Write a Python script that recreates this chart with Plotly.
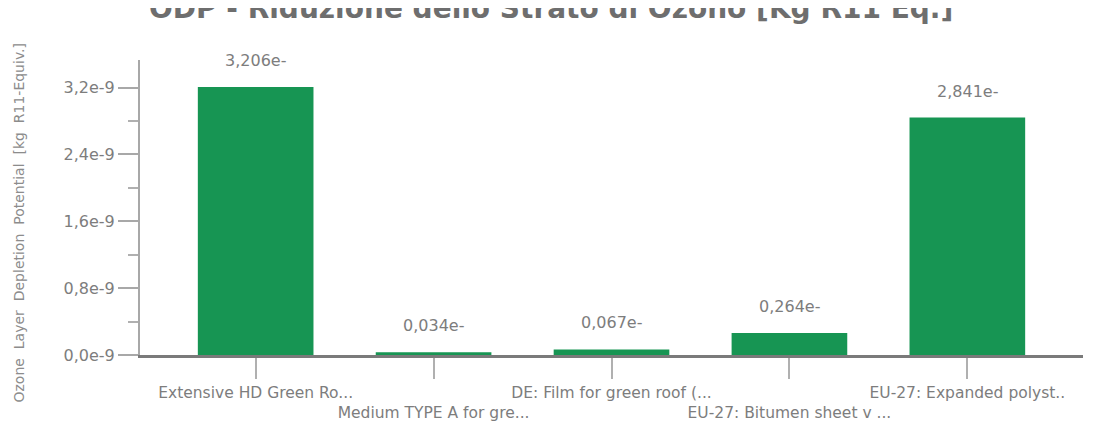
import plotly.graph_objects as go

categories = ["Extensive HD Green Ro...", "Medium TYPE A for gre...", "DE: Film for green roof (...",
              "EU-27: Bitumen sheet v ...", "EU-27: Expanded polyst.."]
values = [3.206e-9, 0.034e-9, 0.067e-9, 0.264e-9, 2.841e-9]
value_labels = ["3,206e-", "0,034e-", "0,067e-", "0,264e-", "2,841e-"]
y_tickvals = [0.0, 0.8e-9, 1.6e-9, 2.4e-9, 3.2e-9]
y_ticktext = ["0,0e-9", "0,8e-9", "1,6e-9", "2,4e-9", "3,2e-9"]
y_minorvals = [0.4e-9, 1.2e-9, 2.0e-9, 2.8e-9]
title = "ODP - Riduzione dello Strato di Ozono [Kg R11 Eq.]"
y_title = "Ozone  Layer  Depletion  Potential  [kg  R11-Equiv.]"

x_ticktext = [c if i % 2 == 0 else "<br>" + c for i, c in enumerate(categories)]

FONT = "DejaVu Sans, Verdana, sans-serif"
GRAY = "#7d7d7d"

fig = go.Figure()
fig.add_trace(go.Bar(x=list(range(len(categories))), y=values, marker_color="#179553",
                     marker_line_width=0, width=0.65, hoverinfo="skip"))

for i, (v, t) in enumerate(zip(values, value_labels)):
    fig.add_annotation(x=i, y=v, text=t, showarrow=False, yanchor="bottom", yshift=15,
                       font=dict(family=FONT, size=16, color=GRAY))

# y-axis title
fig.add_annotation(xref="paper", yref="paper", x=-0.128, y=0.45, text=y_title, textangle=-90,
                   showarrow=False, xanchor="center", yanchor="middle",
                   font=dict(family=FONT, size=14, color="#8c8c8c"))

# chart title (clipped at the top like the reference)
fig.add_annotation(xref="paper", yref="paper", x=(551 - 140) / 943, y=1 + 52 / 295, text="<b>" + title + "</b>",
                   showarrow=False, xanchor="center", yanchor="middle",
                   font=dict(family=FONT, size=28, color="#6e6e6e"))

fig.update_layout(
    width=1107, height=433,
    margin=dict(l=132, r=32, t=52, b=86),
    paper_bgcolor="white", plot_bgcolor="white",
    showlegend=False,
    xaxis=dict(range=[-0.65, 4.65], tickmode="array", tickvals=list(range(len(categories))),
               ticktext=x_ticktext, ticks="outside", ticklen=21, tickwidth=2, tickcolor="#b0b0b0",
               showline=True, linecolor="#7a7a7a", linewidth=3, showgrid=False, zeroline=False,
               tickfont=dict(family=FONT, size=15.5, color=GRAY), tickangle=0),
    yaxis=dict(range=[0, 3.53e-9], tickmode="array", tickvals=y_tickvals, ticktext=y_ticktext,
               ticks="outside", ticklen=20, tickwidth=2, tickcolor="#a8a8a8",
               minor=dict(tickmode="array", tickvals=y_minorvals, ticks="outside", ticklen=10,
                          tickwidth=2, tickcolor="#b0b0b0", showgrid=False),
               showline=True, linecolor="#a8a8a8", linewidth=2, showgrid=False, zeroline=False,
               tickfont=dict(family=FONT, size=16, color=GRAY)),
)

fig.write_html("out.html")
